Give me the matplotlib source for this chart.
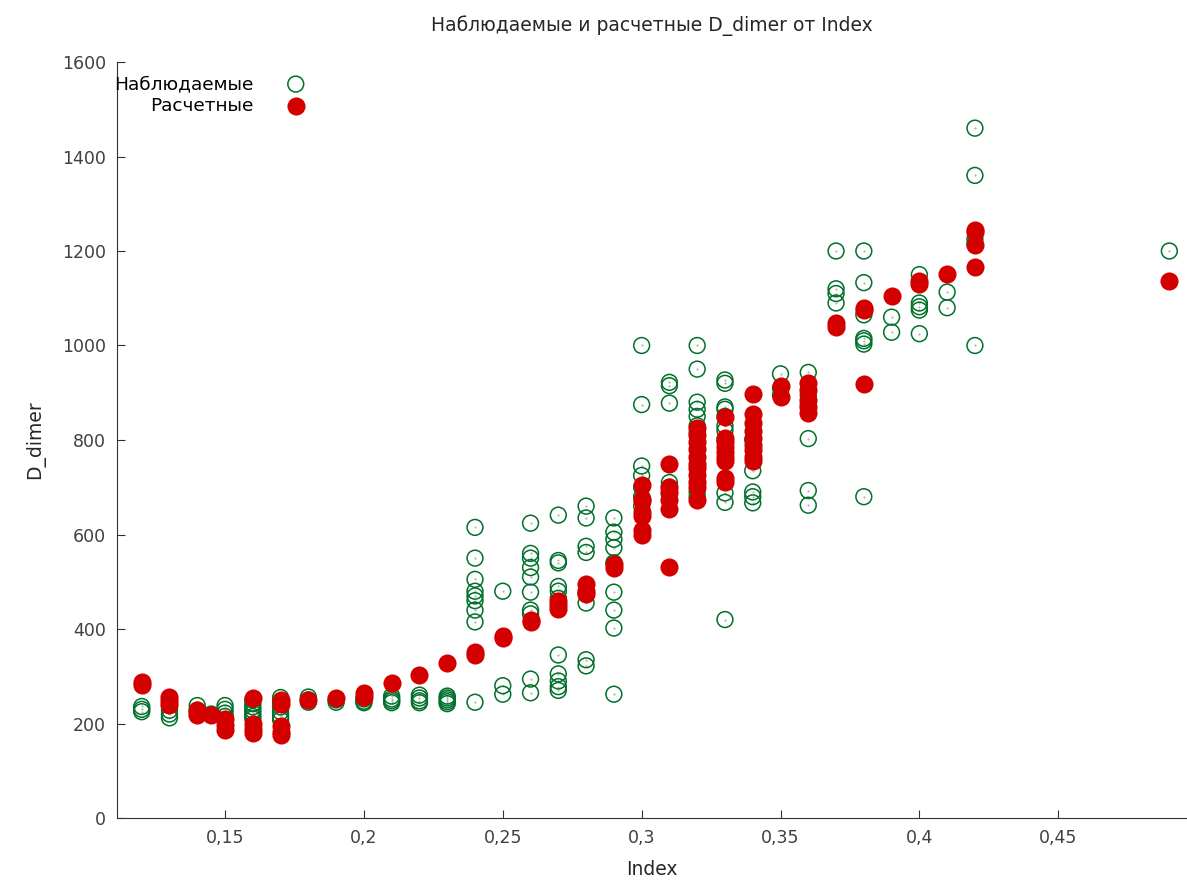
import matplotlib.pyplot as plt
from matplotlib.ticker import FuncFormatter

# observed values by Index
obs_x = [0.12]*3 + [0.13]*4 + [0.14]*3 + [0.145] + [0.15]*4 + [0.16]*7 + [0.17]*6 \
    + [0.18]*3 + [0.19]*2 + [0.20]*3 + [0.21]*4 + [0.22]*4 + [0.23]*5 \
    + [0.24]*9 + [0.25]*3 + [0.26]*10 + [0.27]*11 + [0.28]*8 + [0.29]*9 \
    + [0.30]*7 + [0.31]*6 + [0.32]*9 + [0.33]*11 + [0.34]*5 + [0.35]*3 \
    + [0.36]*6 + [0.37]*4 + [0.38]*7 + [0.39]*2 + [0.40]*5 + [0.41]*2 \
    + [0.42]*5 + [0.49]
obs_y = [236, 230, 225,
         212, 220, 228, 240,
         238, 228, 222,
         220,
         238, 230, 222, 215,
         250, 242, 235, 228, 222, 215, 210,
         255, 245, 235, 225, 215, 208,
         256, 250, 245,
         250, 245,
         252, 247, 244,
         258, 252, 248, 244,
         260, 254, 248, 244,
         258, 254, 250, 246, 242,
         615, 550, 505, 480, 470, 460, 440, 415, 245,
         480, 280, 262,
         624, 560, 550, 530, 510, 478, 440, 432, 294, 265,
         641, 545, 540, 490, 480, 465, 345, 305, 290, 278, 270,
         660, 635, 575, 562, 475, 455, 335, 322,
         635, 605, 590, 572, 540, 478, 440, 402, 262,
         1000, 875, 745, 725, 700, 680, 660,
         922, 915, 878, 710, 700, 685,
         1000, 950, 880, 865, 850, 830, 815, 690, 680,
         927, 920, 870, 865, 850, 830, 820, 800, 688, 668, 420,
         800, 735, 690, 680, 667,
         940, 910, 895,
         943, 895, 875, 803, 693, 662,
         1200, 1120, 1110, 1090,
         1200, 1133, 1065, 1015, 1010, 1003, 680,
         1060, 1028,
         1150, 1090, 1082, 1075, 1025,
         1113, 1080,
         1460, 1360, 1225, 1215, 1000,
         1200]

# predicted values by Index
pred_x = [0.12]*2 + [0.13]*3 + [0.14]*2 + [0.145] + [0.15]*3 + [0.16]*4 + [0.17]*5 \
    + [0.18] + [0.19] + [0.20]*2 + [0.21] + [0.22] + [0.23] + [0.24]*2 \
    + [0.25]*2 + [0.26]*2 + [0.27]*3 + [0.28]*3 + [0.29]*2 + [0.30]*7 \
    + [0.31]*6 + [0.32]*11 + [0.33]*9 + [0.34]*9 + [0.35]*2 + [0.36]*5 \
    + [0.37]*2 + [0.38]*3 + [0.39] + [0.40]*2 + [0.41] + [0.42]*4 + [0.49]
pred_y = [288, 281,
          257, 248, 240,
          228, 218,
          218,
          210, 197, 187,
          254, 200, 188, 180,
          250, 242, 195, 183, 175,
          249,
          253,
          264, 257,
          285,
          303,
          328,
          352, 345,
          385, 380,
          420, 415,
          460, 450, 442,
          495, 480, 474,
          538, 530,
          705, 675, 670, 648, 640, 610, 600,
          750, 700, 690, 672, 655, 532,
          825, 810, 795, 780, 765, 750, 740, 725, 712, 700, 673,
          849, 805, 795, 785, 775, 765, 755, 720, 712,
          897, 855, 835, 820, 805, 790, 778, 765, 755,
          915, 890,
          920, 905, 885, 870, 858,
          1048, 1040,
          1080, 1075, 918,
          1104,
          1137, 1130,
          1152,
          1245, 1240, 1212, 1167,
          1136]

green = '#00702a'
red = '#d40000'

fig = plt.figure(figsize=(11.87, 8.88), dpi=100)
ax = fig.add_axes([117/1187, 70/888, 1069/1187, 756/888])

ax.scatter(obs_x, obs_y, s=130, facecolors='none', edgecolors=green,
           linewidths=1.1, label='Наблюдаемые', zorder=2)
# tiny centre dot of the gnuplot-like marker
ax.scatter(obs_x, obs_y, s=0.15, color=green, alpha=0.6, zorder=2)
ax.scatter(pred_x, pred_y, s=170, color=red, linewidths=0,
           label='Расчетные', zorder=3)

ax.set_xlim(0.1111, 0.496)
ax.set_ylim(0, 1600)
ax.set_xticks([0.15, 0.2, 0.25, 0.3, 0.35, 0.4, 0.45])
ax.set_yticks(range(0, 1601, 200))
ax.xaxis.set_major_formatter(FuncFormatter(lambda v, p: ('%g' % v).replace('.', ',')))

for s in ['top', 'right']:
    ax.spines[s].set_visible(False)
for s in ['left', 'bottom']:
    ax.spines[s].set_color('#333333')
ax.tick_params(direction='in', length=6, labelsize=12.5, colors='#333333',
               labelcolor='#404040', pad=8)

ax.set_xlabel('Index', fontsize=13.5, color='#262626', labelpad=9)
ax.set_ylabel('D_dimer', fontsize=13.5, color='#262626', labelpad=12)
ax.set_title('Наблюдаемые и расчетные D_dimer от Index', fontsize=13.5,
             color='#262626', pad=22)

ax.legend(loc='upper left', bbox_to_anchor=(-0.015, 1.0), frameon=False,
          markerfirst=False, fontsize=13.3, handletextpad=1.3,
          labelspacing=0.2, borderaxespad=0.3)

fig.savefig('out.png', dpi=100)
